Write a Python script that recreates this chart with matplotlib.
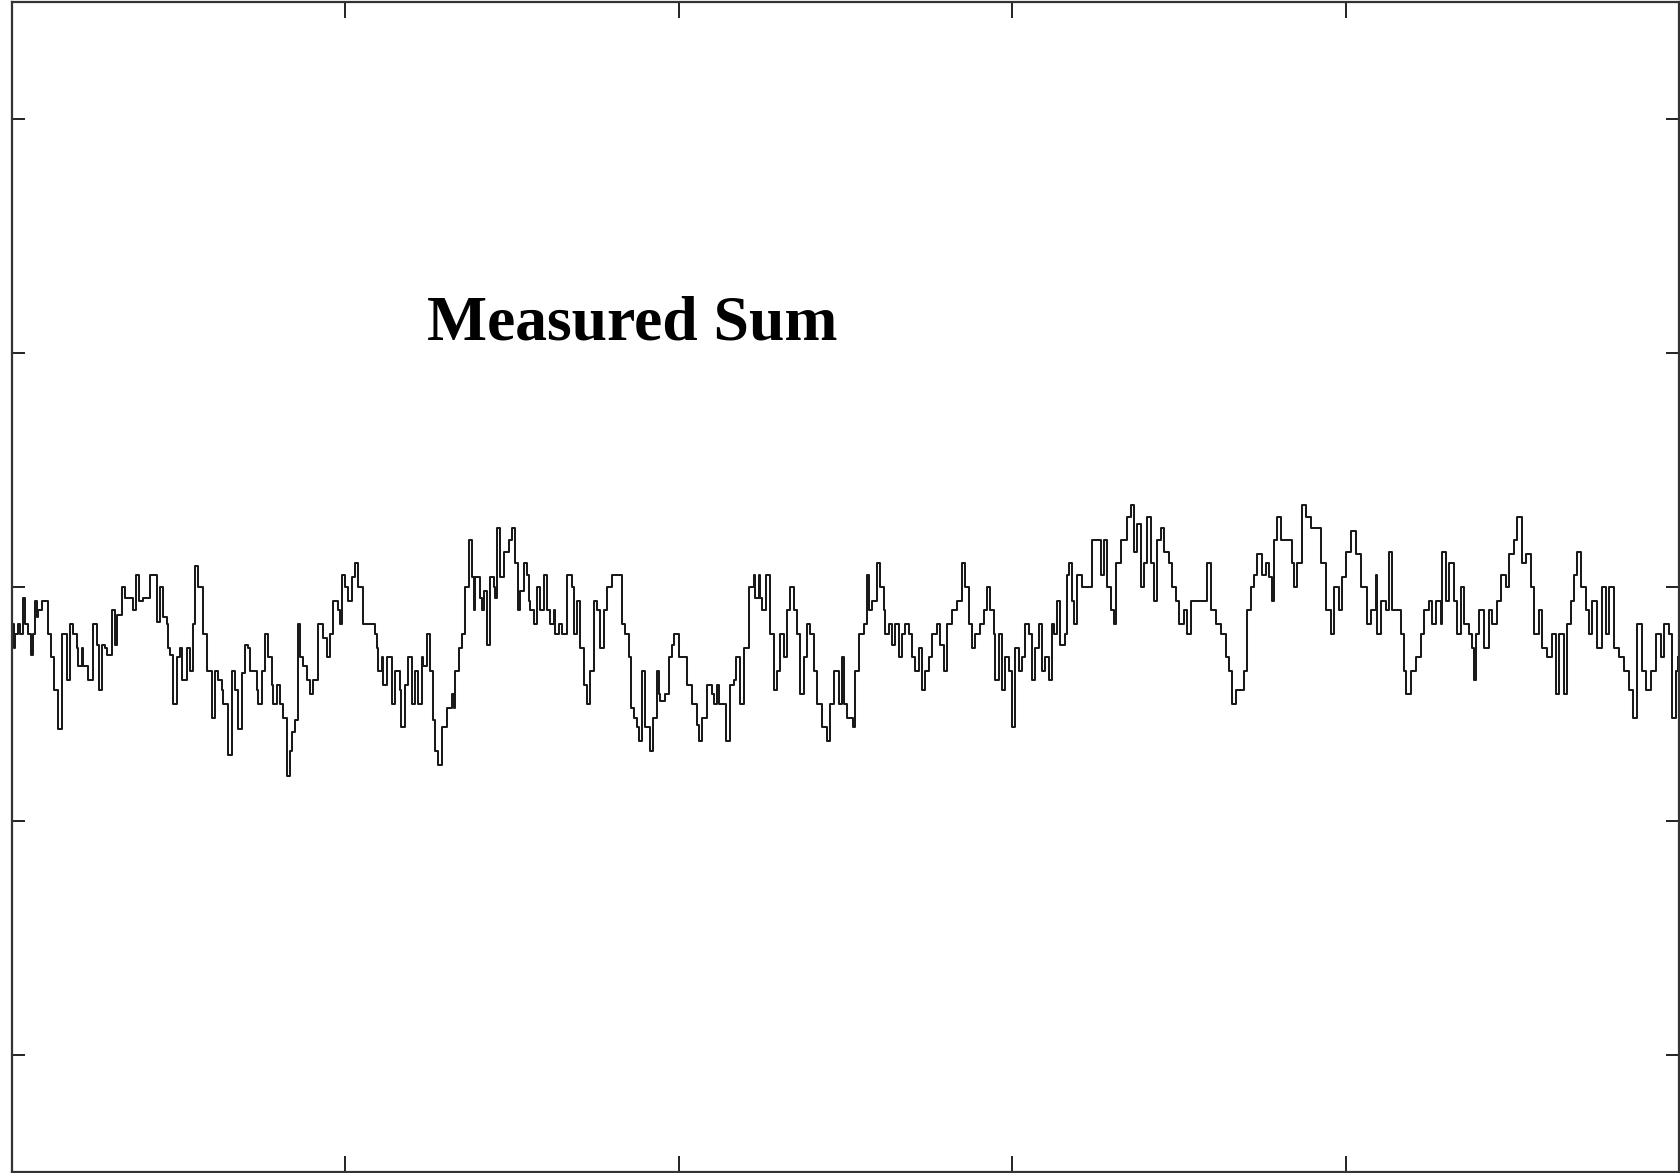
import matplotlib
matplotlib.use("Agg")
import matplotlib.pyplot as plt

# sample time (arbitrary units) and measured sum (mV)
t = [3, 6, 10, 18, 25, 35, 40, 50, 58, 65, 70, 77, 80, 90, 110, 118, 128, 140, 150, 160,
     165, 175, 185, 195, 200, 210, 215, 230, 245, 255, 263, 270, 280, 285, 300, 310, 315, 330, 340, 355,
     365, 373, 383, 395, 415, 425, 435, 445, 455, 465, 470, 475, 485, 495, 505, 510, 525, 535, 545, 550,
     560, 575, 585, 595, 600, 610, 620, 630, 635, 650, 660, 670, 680, 690, 700, 710, 715, 725, 735, 740,
     750, 760, 770, 780, 785, 795, 805, 815, 825, 827, 835, 840, 850, 860, 865, 875, 885, 895, 905, 920,
     935, 945, 955, 965, 980, 985, 990, 1000, 1010, 1020, 1030, 1040, 1050, 1055, 1065, 1080, 1090, 1095, 1100, 1110,
     1115, 1125, 1140, 1150, 1165, 1167, 1180, 1190, 1200, 1210, 1220, 1230, 1235, 1245, 1255, 1265, 1270, 1280, 1290, 1305,
     1320, 1325, 1330, 1340, 1350, 1360, 1370, 1380, 1385, 1390, 1405, 1410, 1415, 1425, 1435, 1445, 1450, 1455, 1465, 1475,
     1490, 1500, 1510, 1517, 1525, 1535, 1545, 1550, 1555, 1565, 1575, 1585, 1595, 1605, 1615, 1625, 1630, 1640, 1650, 1665,
     1680, 1685, 1695, 1705, 1715, 1725, 1735, 1745, 1755, 1765, 1775, 1785, 1800, 1820, 1830, 1840, 1850, 1858, 1865, 1875,
     1880, 1890, 1900, 1913, 1923, 1935, 1940, 1945, 1960, 1970, 1980, 1985, 2000, 2015, 2025, 2040, 2055, 2060, 2070, 2085,
     2100, 2105, 2115, 2120, 2130, 2143, 2155, 2165, 2173, 2183, 2195, 2210, 2225, 2230, 2240, 2245, 2250, 2263, 2275, 2285,
     2295, 2305, 2315, 2325, 2335, 2345, 2355, 2365, 2375, 2385, 2395, 2405, 2415, 2430, 2445, 2455, 2465, 2480, 2490, 2495,
     2505, 2523, 2530, 2540, 2555, 2565, 2570, 2580, 2595, 2605, 2615, 2620, 2630, 2640, 2650, 2660, 2670, 2680, 2690, 2700,
     2710, 2720, 2730, 2740, 2750, 2760, 2775, 2785, 2795, 2805, 2820, 2835, 2850, 2860, 2870, 2880, 2890, 2905, 2915, 2925,
     2935, 2945, 2950, 2960, 2970, 2980, 2990, 3000, 3010, 3020, 3030, 3040, 3050, 3060, 3070, 3080, 3090, 3100, 3110, 3120,
     3125, 3135, 3145, 3160, 3165, 3170, 3180, 3185, 3195, 3210, 3230, 3240, 3255, 3265, 3275, 3285, 3295, 3305, 3310, 3325,
     3335, 3345, 3355, 3365, 3375, 3385, 3395, 3405, 3415, 3425, 3435, 3445, 3455, 3470, 3480, 3490, 3500, 3515, 3525, 3535,
     3555, 3575, 3585, 3595, 3610, 3625, 3640, 3650, 3660, 3670, 3685, 3695, 3705, 3715, 3725, 3735, 3750, 3760, 3770, 3780,
     3785, 3795, 3805, 3825, 3840, 3845, 3855, 3870, 3880, 3895, 3910, 3925, 3940, 3955, 3965, 3980, 3990, 4000, 4015, 4030,
     4045, 4065, 4075, 4090, 4095, 4105, 4120, 4130, 4140, 4155, 4165, 4175, 4180, 4195, 4210, 4225, 4235, 4250, 4260, 4270,
     4285, 4290, 4300, 4310, 4325, 4335, 4345, 4355, 4370, 4380, 4385, 4390, 4400, 4415, 4430, 4440, 4455, 4465, 4480, 4490,
     4505, 4515, 4530, 4540, 4555, 4565, 4580, 4590, 4605, 4620, 4630, 4640, 4655, 4665, 4675, 4685, 4693, 4705, 4720, 4730,
     4740, 4755, 4770, 4780, 4790, 4805, 4820, 4835, 4850, 4863, 4875, 4890, 4900, 4915, 4930, 4945, 4955, 4970, 4980, 4990,
     4998]
v = [-16, -26, -20, -16, -20, -5, -16, -20, -29, -20, -6, -13, -10, -6, -20, -30, -44, -61, -20, -20,
     -40, -16, -20, -26, -34, -26, -34, -40, -16, -25, -44, -25, -26, -29, -10, -25, -12, 0, -5, -5,
     -10, 5, -6, -5, 5, 5, -15, 0, -13, -16, -26, -29, -50, -30, -26, -40, -26, -36, -16, 9,
     0, -20, -36, -36, -56, -36, -40, -44, -50, -72, -36, -44, -61, -37, -25, -26, -36, -36, -44, -50,
     -36, -20, -30, -42, -50, -42, -50, -56, -70, -81, -70, -62, -57, -16, -30, -34, -40, -46, -40, -16,
     -22, -30, -20, -6, -10, -16, 5, 0, -6, 4, 10, 0, 0, -16, -16, -16, -20, -26, -36, -30,
     -42, -30, -50, -36, -44, -60, -42, -30, -50, -36, -50, -30, -34, -20, -36, -57, -70, -76, -60, -52,
     -46, -52, -36, -26, -20, 0, 20, 4, -10, 4, -5, -10, -2, -25, 4, 0, -5, 25, 4, 15,
     20, 25, 10, -10, -2, 10, 5, -6, -10, -16, 0, -10, 5, -10, -16, -10, -20, -16, -20, 5,
     0, -20, -6, -26, -42, -50, -36, -6, -10, -26, -10, 0, 5, 5, -16, -20, -30, -52, -56, -60,
     -66, -36, -60, -70, -56, -36, -46, -49, -46, -30, -25, -20, -30, -30, -42, -50, -59, -66, -56, -42,
     -46, -50, -42, -50, -50, -66, -42, -40, -30, -50, -26, 0, 5, -5, 5, -5, -10, 5, -20, -44,
     -36, -20, -30, -10, 0, -10, -20, -46, -30, -16, -20, -36, -50, -60, -66, -50, -36, -50, -30, -50,
     -56, -60, -36, -20, -16, 5, -10, -6, 10, 0, -10, -20, -16, -25, -16, -30, -20, -16, -20, -30,
     -36, -26, -44, -36, -30, -20, -16, -25, -36, -16, -10, -6, 10, 0, -16, -26, -20, -16, -10, 0,
     -10, -20, -40, -20, -44, -30, -36, -60, -26, -36, -30, -16, -20, -40, -26, -16, -36, -30, -40, -16,
     -20, -6, -25, -20, 5, 10, -6, -16, 5, 0, 0, 20, 20, 5, 20, 0, -10, -16, 10, 20,
     20, 30, 35, 15, 27, 0, 10, 30, 10, -6, 20, 25, 15, 10, 0, -6, -16, -10, -20, -6,
     -6, -6, 10, -10, -16, -20, -30, -36, -50, -44, -44, -36, -10, 0, 5, 14, 5, 10, 4, -6,
     20, 30, 20, 20, 10, 0, 10, 35, 30, 25, 25, 10, -10, -20, 0, -10, 4, 15, 24, 14,
     0, -16, -10, 5, -20, -6, -10, 15, -10, -10, -20, -36, -46, -36, -30, -20, -10, -6, -16, -6,
     -16, 15, -6, 10, -6, -20, 0, -16, -20, -26, -40, -20, -10, -26, -10, -16, -6, 5, 0, 14,
     20, 30, 10, 14, 0, -20, -10, -26, -30, -20, -46, -20, -46, -16, -6, 5, 15, 0, -10, -20,
     -6, -26, 0, -20, 0, -26, -30, -36, -44, -56, -16, -36, -44, -36, -20, -30, -16, -20, -56, -36,
     -30]

label = "Measured Sum"

fig = plt.figure(figsize=(16.81, 11.73), dpi=100)
ax = fig.add_axes([0.0069, 0.0011, 0.9920, 0.9974])

ax.plot(t, v, drawstyle="steps-post", color="#1a1a1a", linewidth=1.45)

ax.set_xlim(0, 5000)
ax.set_ylim(-250, 250)
ax.set_xticks([1000, 2000, 3000, 4000])
ax.set_yticks([-200, -100, 0, 100, 200])
ax.tick_params(axis="both", which="both", direction="in", top=True, right=True,
               labelbottom=False, labelleft=False, width=1.4, color="#222222")
ax.tick_params(axis="x", length=11.5)
ax.tick_params(axis="y", length=9.5)
for s in ax.spines.values():
    s.set_linewidth(1.6)
    s.set_color("#333333")

ax.text(0.249, 0.711, label, transform=ax.transAxes, fontsize=45.8,
        fontweight="bold", family="Liberation Serif", ha="left", va="baseline")

fig.savefig("out.png", dpi=100)
